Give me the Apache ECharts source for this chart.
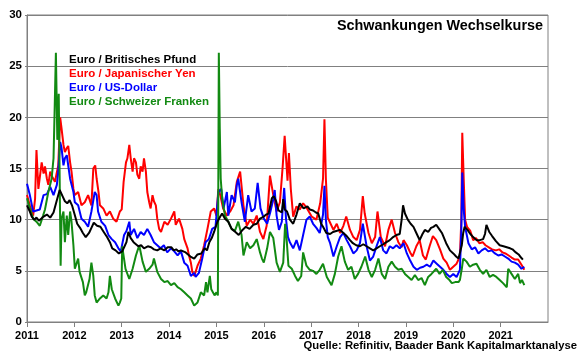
<!DOCTYPE html>
<html><head><meta charset="utf-8">
<script src="https://cdn.jsdelivr.net/npm/echarts@6/dist/echarts.min.js"></script>
<style>html,body{margin:0;padding:0;background:#fff}#c{width:580px;height:359px}</style>
</head><body><div id="c"></div>
<script>
const seriesNames = ['Euro / Britisches Pfund', 'Euro / Japanischer Yen', 'Euro / US-Dollar', 'Euro / Schweizer Franken'];
const yTicks = [0, 5, 10, 15, 20, 25, 30];
const xYears = [2011, 2012, 2013, 2014, 2015, 2016, 2017, 2018, 2019, 2020, 2021, 2022];

const gbp = [[2011.00,11.4],[2011.05,10.9],[2011.10,10.3],[2011.15,10.0],[2011.20,10.2],[2011.25,9.9],[2011.30,10.1],[2011.35,10.3],[2011.42,10.5],[2011.49,10.2],[2011.56,10.7],[2011.63,11.9],[2011.69,12.9],[2011.75,12.3],[2011.80,11.8],[2011.85,11.6],[2011.90,11.9],[2011.95,11.4],[2012.00,10.6],[2012.06,9.6],[2012.12,9.2],[2012.18,8.7],[2012.24,8.3],[2012.31,8.7],[2012.36,9.2],[2012.41,9.7],[2012.48,9.4],[2012.55,9.3],[2012.62,8.8],[2012.69,8.3],[2012.75,7.8],[2012.80,7.2],[2012.87,7.0],[2012.94,6.7],[2013.01,6.9],[2013.06,7.4],[2013.10,7.8],[2013.14,8.8],[2013.19,8.2],[2013.25,7.8],[2013.30,7.6],[2013.35,7.4],[2013.41,7.5],[2013.47,7.2],[2013.55,7.4],[2013.62,7.3],[2013.68,7.1],[2013.75,7.0],[2013.82,7.2],[2013.90,7.0],[2013.97,7.3],[2014.05,7.3],[2014.10,7.0],[2014.15,7.1],[2014.20,6.9],[2014.25,7.0],[2014.30,6.9],[2014.35,6.8],[2014.40,6.6],[2014.45,6.4],[2014.53,6.2],[2014.60,6.6],[2014.68,6.7],[2014.75,7.2],[2014.80,7.0],[2014.85,7.8],[2014.90,8.2],[2014.95,8.8],[2015.02,9.8],[2015.08,10.3],[2015.12,10.6],[2015.18,10.1],[2015.25,9.8],[2015.32,9.1],[2015.40,8.8],[2015.47,8.5],[2015.55,9.0],[2015.62,9.3],[2015.70,9.1],[2015.78,9.5],[2015.85,9.6],[2015.92,10.1],[2016.00,10.3],[2016.05,10.5],[2016.10,10.6],[2016.17,12.1],[2016.21,12.3],[2016.26,11.8],[2016.31,10.9],[2016.38,10.7],[2016.41,12.0],[2016.44,11.0],[2016.49,10.8],[2016.55,10.0],[2016.62,9.6],[2016.69,10.5],[2016.76,11.6],[2016.84,11.1],[2016.92,11.3],[2016.97,11.0],[2017.04,10.9],[2017.10,10.7],[2017.15,10.6],[2017.21,9.6],[2017.25,9.3],[2017.32,8.7],[2017.40,8.6],[2017.46,8.8],[2017.53,8.9],[2017.61,9.0],[2017.68,8.7],[2017.75,8.4],[2017.82,8.0],[2017.88,7.7],[2017.95,7.5],[2018.03,7.4],[2018.10,7.6],[2018.17,7.4],[2018.24,7.2],[2018.31,7.0],[2018.38,7.2],[2018.45,7.4],[2018.52,7.6],[2018.59,7.8],[2018.66,8.0],[2018.73,8.3],[2018.80,8.5],[2018.87,8.6],[2018.91,10.0],[2018.94,11.4],[2018.98,10.6],[2019.04,10.0],[2019.10,9.6],[2019.16,9.3],[2019.23,8.6],[2019.29,8.0],[2019.35,8.6],[2019.40,9.0],[2019.47,8.8],[2019.53,9.2],[2019.58,9.3],[2019.64,9.5],[2019.70,9.1],[2019.76,8.7],[2019.85,7.7],[2019.93,7.0],[2020.00,6.7],[2020.06,6.4],[2020.11,6.2],[2020.15,6.1],[2020.18,7.5],[2020.21,8.7],[2020.24,9.3],[2020.30,9.0],[2020.36,8.6],[2020.42,8.3],[2020.49,8.0],[2020.56,8.0],[2020.63,8.1],[2020.67,8.6],[2020.70,9.5],[2020.76,8.8],[2020.82,8.4],[2020.90,7.9],[2020.98,7.5],[2021.06,7.4],[2021.13,7.3],[2021.20,7.2],[2021.25,7.1],[2021.32,6.8],[2021.38,6.6],[2021.43,6.3],[2021.47,6.1]];

const jpy = [[2011.00,12.4],[2011.06,11.4],[2011.13,10.4],[2011.17,12.0],[2011.20,16.8],[2011.24,13.0],[2011.31,15.6],[2011.35,14.5],[2011.38,15.2],[2011.42,14.0],[2011.45,13.4],[2011.49,14.7],[2011.52,14.3],[2011.59,13.7],[2011.66,15.3],[2011.70,20.0],[2011.73,18.9],[2011.77,17.3],[2011.80,16.6],[2011.84,17.0],[2011.87,17.2],[2011.91,15.6],[2011.94,14.7],[2011.98,13.0],[2012.01,12.4],[2012.08,12.7],[2012.15,11.4],[2012.22,11.7],[2012.29,12.4],[2012.36,11.4],[2012.40,15.0],[2012.44,15.3],[2012.47,14.0],[2012.51,12.7],[2012.54,11.4],[2012.61,11.1],[2012.68,10.4],[2012.75,10.8],[2012.82,10.1],[2012.89,9.8],[2012.96,10.8],[2013.00,11.0],[2013.04,13.7],[2013.09,15.6],[2013.12,16.0],[2013.16,17.3],[2013.19,16.0],[2013.23,14.7],[2013.26,16.0],[2013.30,15.6],[2013.33,14.4],[2013.37,14.0],[2013.40,15.2],[2013.44,14.7],[2013.47,16.0],[2013.51,14.7],[2013.54,12.7],[2013.58,11.7],[2013.61,11.1],[2013.65,12.4],[2013.68,11.8],[2013.72,11.4],[2013.75,10.1],[2013.79,9.1],[2013.83,8.8],[2013.90,9.8],[2013.97,9.5],[2014.04,10.1],[2014.11,10.8],[2014.14,9.5],[2014.21,10.1],[2014.28,9.1],[2014.32,8.1],[2014.39,7.2],[2014.42,6.5],[2014.46,5.8],[2014.49,4.9],[2014.53,4.5],[2014.56,4.9],[2014.60,5.5],[2014.67,6.2],[2014.74,7.5],[2014.81,9.1],[2014.88,10.8],[2014.95,11.1],[2015.00,10.4],[2015.04,13.0],[2015.08,12.4],[2015.14,11.1],[2015.22,10.4],[2015.29,10.8],[2015.36,11.4],[2015.43,13.7],[2015.50,14.7],[2015.57,11.4],[2015.64,9.4],[2015.71,10.0],[2015.78,9.6],[2015.85,10.4],[2015.92,8.8],[2015.99,8.1],[2016.06,9.4],[2016.13,14.3],[2016.20,12.4],[2016.27,10.8],[2016.34,11.7],[2016.40,15.3],[2016.44,18.2],[2016.47,16.0],[2016.50,13.8],[2016.53,16.5],[2016.57,13.0],[2016.62,10.3],[2016.69,11.3],[2016.76,11.0],[2016.83,11.6],[2016.90,11.2],[2017.01,10.3],[2017.11,10.0],[2017.19,11.6],[2017.25,14.0],[2017.28,19.8],[2017.31,14.0],[2017.35,10.2],[2017.40,9.7],[2017.47,9.0],[2017.54,9.6],[2017.61,8.7],[2017.68,9.4],[2017.74,10.3],[2017.82,9.0],[2017.89,8.3],[2017.96,8.0],[2018.03,9.0],[2018.09,12.3],[2018.13,10.6],[2018.21,8.7],[2018.28,7.7],[2018.35,8.3],[2018.40,10.8],[2018.47,8.3],[2018.56,7.4],[2018.63,9.0],[2018.70,10.0],[2018.77,8.7],[2018.84,7.8],[2018.91,7.3],[2018.95,8.0],[2019.02,7.5],[2019.09,6.8],[2019.14,6.4],[2019.22,7.4],[2019.29,8.0],[2019.36,6.5],[2019.42,6.1],[2019.50,7.4],[2019.57,8.4],[2019.64,8.0],[2019.72,7.1],[2019.79,6.2],[2019.86,5.8],[2019.93,5.1],[2020.00,5.4],[2020.07,5.7],[2020.14,6.4],[2020.17,10.0],[2020.19,18.5],[2020.22,14.0],[2020.25,10.0],[2020.29,9.3],[2020.36,8.9],[2020.42,8.0],[2020.48,8.2],[2020.55,7.7],[2020.62,7.8],[2020.68,7.5],[2020.75,7.3],[2020.82,7.1],[2020.90,7.0],[2020.97,7.1],[2021.04,6.8],[2021.10,6.7],[2021.17,6.5],[2021.23,6.3],[2021.30,6.1],[2021.37,6.1],[2021.44,5.6],[2021.50,5.1]];

const usd = [[2011.00,13.5],[2011.06,12.4],[2011.13,10.8],[2011.20,10.9],[2011.27,11.0],[2011.35,12.4],[2011.42,12.5],[2011.49,13.2],[2011.56,12.4],[2011.63,13.4],[2011.66,14.7],[2011.70,17.6],[2011.73,17.0],[2011.77,15.3],[2011.80,16.0],[2011.84,16.3],[2011.87,15.3],[2011.91,14.0],[2011.98,12.7],[2012.01,11.7],[2012.08,11.4],[2012.15,10.1],[2012.22,9.8],[2012.29,9.3],[2012.36,10.8],[2012.43,12.7],[2012.47,12.4],[2012.50,10.8],[2012.57,9.8],[2012.65,9.4],[2012.72,8.5],[2012.79,8.1],[2012.86,7.8],[2012.93,7.2],[2012.98,6.9],[2013.05,8.5],[2013.10,8.9],[2013.16,9.8],[2013.19,8.5],[2013.26,9.1],[2013.33,8.2],[2013.40,8.8],[2013.47,8.5],[2013.54,9.1],[2013.61,8.5],[2013.68,7.8],[2013.75,7.5],[2013.82,7.2],[2013.89,7.5],[2013.96,6.8],[2014.04,7.2],[2014.11,6.9],[2014.18,6.5],[2014.25,6.9],[2014.32,5.8],[2014.39,5.5],[2014.46,4.5],[2014.53,4.8],[2014.56,4.4],[2014.63,4.8],[2014.70,6.2],[2014.77,7.8],[2014.84,8.1],[2014.91,9.1],[2014.98,9.3],[2015.04,12.7],[2015.10,13.0],[2015.15,11.1],[2015.22,12.7],[2015.25,10.4],[2015.32,12.4],[2015.39,11.7],[2015.43,13.4],[2015.46,14.0],[2015.53,11.7],[2015.60,9.8],[2015.67,12.4],[2015.74,10.8],[2015.81,11.1],[2015.87,13.6],[2015.93,11.1],[2016.00,10.1],[2016.07,9.6],[2016.14,10.8],[2016.20,12.0],[2016.23,12.9],[2016.27,10.4],[2016.32,9.0],[2016.38,9.8],[2016.43,13.1],[2016.47,10.0],[2016.51,8.3],[2016.55,7.8],[2016.62,7.2],[2016.69,8.0],[2016.76,7.0],[2016.83,8.5],[2016.90,10.0],[2016.97,10.3],[2017.04,9.6],[2017.11,9.2],[2017.18,8.7],[2017.25,10.5],[2017.28,13.3],[2017.31,10.0],[2017.35,8.3],[2017.40,7.7],[2017.47,6.4],[2017.54,7.4],[2017.61,8.3],[2017.68,8.7],[2017.75,8.0],[2017.82,7.4],[2017.89,6.7],[2017.96,7.0],[2018.03,7.7],[2018.09,9.6],[2018.17,7.4],[2018.24,6.0],[2018.31,6.4],[2018.38,7.4],[2018.45,8.3],[2018.52,7.0],[2018.59,6.7],[2018.66,7.4],[2018.73,7.2],[2018.80,7.5],[2018.87,7.2],[2018.95,7.7],[2019.02,6.7],[2019.09,6.0],[2019.16,5.4],[2019.23,5.1],[2019.30,5.3],[2019.37,5.4],[2019.44,5.6],[2019.51,5.4],[2019.58,6.0],[2019.65,5.7],[2019.72,5.4],[2019.79,5.1],[2019.86,4.7],[2019.93,4.4],[2020.00,4.7],[2020.07,4.4],[2020.14,5.1],[2020.17,9.0],[2020.19,14.6],[2020.22,11.0],[2020.25,9.3],[2020.32,7.7],[2020.39,7.1],[2020.46,7.3],[2020.53,6.7],[2020.60,7.0],[2020.67,7.2],[2020.74,6.9],[2020.81,7.0],[2020.88,6.7],[2020.95,6.5],[2021.02,6.6],[2021.09,6.4],[2021.16,6.2],[2021.23,5.9],[2021.30,5.8],[2021.37,5.6],[2021.44,5.2],[2021.50,5.4]];

const chf = [[2011.00,12.1],[2011.06,11.1],[2011.13,10.1],[2011.20,9.8],[2011.27,9.4],[2011.34,10.4],[2011.38,11.0],[2011.45,12.7],[2011.52,14.0],[2011.56,16.0],[2011.58,20.0],[2011.61,26.3],[2011.64,17.8],[2011.67,22.3],[2011.71,5.5],[2011.73,10.1],[2011.77,10.8],[2011.80,7.8],[2011.84,10.4],[2011.87,8.5],[2011.91,10.8],[2011.94,9.8],[2011.98,7.5],[2012.01,5.2],[2012.08,6.2],[2012.11,4.9],[2012.18,3.9],[2012.22,2.6],[2012.25,2.9],[2012.32,4.2],[2012.36,5.8],[2012.40,4.5],[2012.43,2.6],[2012.47,1.9],[2012.54,2.3],[2012.61,2.6],[2012.68,2.3],[2012.72,2.9],[2012.75,4.5],[2012.79,3.2],[2012.86,2.3],[2012.93,1.6],[2012.96,1.9],[2012.99,2.3],[2013.01,7.4],[2013.08,5.2],[2013.16,4.2],[2013.23,5.2],[2013.30,6.5],[2013.37,7.5],[2013.44,5.9],[2013.51,4.9],[2013.58,5.2],[2013.65,5.6],[2013.68,6.2],[2013.75,4.9],[2013.83,4.2],[2013.90,3.9],[2013.97,4.0],[2014.04,3.6],[2014.11,3.8],[2014.18,3.4],[2014.25,3.2],[2014.32,2.9],[2014.39,2.6],[2014.46,2.3],[2014.53,1.6],[2014.60,1.9],[2014.67,2.9],[2014.74,2.6],[2014.78,3.9],[2014.81,2.9],[2014.86,4.5],[2014.89,3.2],[2014.96,2.6],[2015.00,2.9],[2015.03,2.6],[2015.05,26.3],[2015.07,18.9],[2015.09,14.0],[2015.12,12.1],[2015.18,10.4],[2015.25,9.8],[2015.32,9.1],[2015.39,8.9],[2015.46,9.8],[2015.53,8.5],[2015.57,6.5],[2015.64,7.8],[2015.71,7.2],[2015.78,7.5],[2015.85,8.1],[2015.92,6.8],[2015.96,6.2],[2016.00,5.8],[2016.07,7.2],[2016.13,8.8],[2016.20,8.2],[2016.27,5.8],[2016.34,4.9],[2016.41,5.8],[2016.45,9.6],[2016.48,8.2],[2016.52,5.5],[2016.59,5.2],[2016.66,4.5],[2016.72,4.0],[2016.79,4.5],[2016.83,6.8],[2016.90,5.5],[2016.97,5.1],[2017.04,5.0],[2017.11,4.7],[2017.18,5.1],[2017.25,5.7],[2017.33,4.4],[2017.43,3.6],[2017.50,4.7],[2017.57,6.4],[2017.64,7.4],[2017.71,5.9],[2017.78,5.1],[2017.85,5.4],[2017.92,4.2],[2017.99,4.7],[2018.06,5.4],[2018.14,6.4],[2018.21,5.1],[2018.28,4.4],[2018.35,5.1],[2018.42,6.2],[2018.49,4.7],[2018.56,4.2],[2018.63,5.4],[2018.70,5.9],[2018.77,5.4],[2018.84,5.1],[2018.91,5.2],[2018.98,4.7],[2019.05,4.4],[2019.12,4.1],[2019.19,4.6],[2019.26,4.1],[2019.33,4.3],[2019.40,3.6],[2019.47,4.4],[2019.54,4.7],[2019.64,5.2],[2019.71,4.7],[2019.78,5.1],[2019.85,4.4],[2019.92,4.1],[2019.97,3.8],[2020.04,3.9],[2020.11,3.9],[2020.14,4.1],[2020.18,5.2],[2020.21,6.2],[2020.28,5.9],[2020.35,5.4],[2020.42,5.6],[2020.49,5.7],[2020.56,5.1],[2020.63,4.7],[2020.70,5.1],[2020.77,4.4],[2020.84,4.6],[2020.91,4.4],[2020.98,4.1],[2021.05,3.8],[2021.13,3.4],[2021.16,5.2],[2021.23,4.7],[2021.30,4.2],[2021.37,4.7],[2021.41,3.8],[2021.45,4.1],[2021.50,3.6]];

const colors = ['#000000', '#ff0000', '#0000ff', '#128a12'];
const dataList = [gbp, jpy, usd, chf];
const FONT = 'Arial, "Liberation Sans", sans-serif';

const chart = echarts.init(document.getElementById('c'), null, {renderer: 'canvas'});
const drawOrder = [1, 2, 3, 0];
chart.setOption({
  animation: false,
  backgroundColor: '#ffffff',
  title: [
    {text: 'Schwankungen Wechselkurse', right: 37, top: 19, padding: 0,
     textStyle: {fontFamily: FONT, fontSize: 14.4, fontWeight: 'bold', color: '#000'}},
    {text: 'Quelle: Refinitiv, Baader Bank Kapitalmarktanalyse', right: 3, top: 340, padding: 0,
     textStyle: {fontFamily: FONT, fontSize: 11.3, fontWeight: 'bold', color: '#000'}}
  ],
  legend: {
    orient: 'vertical', left: 64, top: 54, padding: 0, itemGap: 2,
    icon: 'none', itemWidth: 0, itemHeight: 11, selectedMode: false,
    textStyle: {fontFamily: FONT, fontSize: 11.5, fontWeight: 'bold', padding: 0},
    data: seriesNames.map((n, i) => ({name: n, textStyle: {color: colors[i]}}))
  },
  grid: {left: 27, right: 32, top: 15, bottom: 37, show: true, borderColor: '#808080', borderWidth: 1},
  xAxis: {
    type: 'value', min: xYears[0], max: xYears[xYears.length - 1], interval: 1,
    axisLine: {lineStyle: {color: '#808080'}},
    axisTick: {show: true, length: 5, lineStyle: {color: '#808080'}},
    splitLine: {show: false},
    axisLabel: {showMaxLabel: false, fontFamily: FONT, fontSize: 11, fontWeight: 'bold', color: '#000', margin: 8,
      formatter: v => String(v)}
  },
  yAxis: {
    type: 'value', min: yTicks[0], max: yTicks[yTicks.length - 1], interval: 5,
    axisLine: {show: true, lineStyle: {color: '#808080'}},
    axisTick: {show: true, length: 2, lineStyle: {color: '#808080'}},
    splitLine: {lineStyle: {color: '#808080', width: 1}},
    axisLabel: {fontFamily: FONT, fontSize: 11.5, fontWeight: 'bold', color: '#000', margin: 5}
  },
  series: drawOrder.map(i => ({
    name: seriesNames[i], type: 'line', data: dataList[i], showSymbol: false, symbol: 'none',
    lineStyle: {color: colors[i], width: 2}, itemStyle: {color: colors[i]}, z: 2 + drawOrder.indexOf(i)
  }))
});
</script></body></html>
